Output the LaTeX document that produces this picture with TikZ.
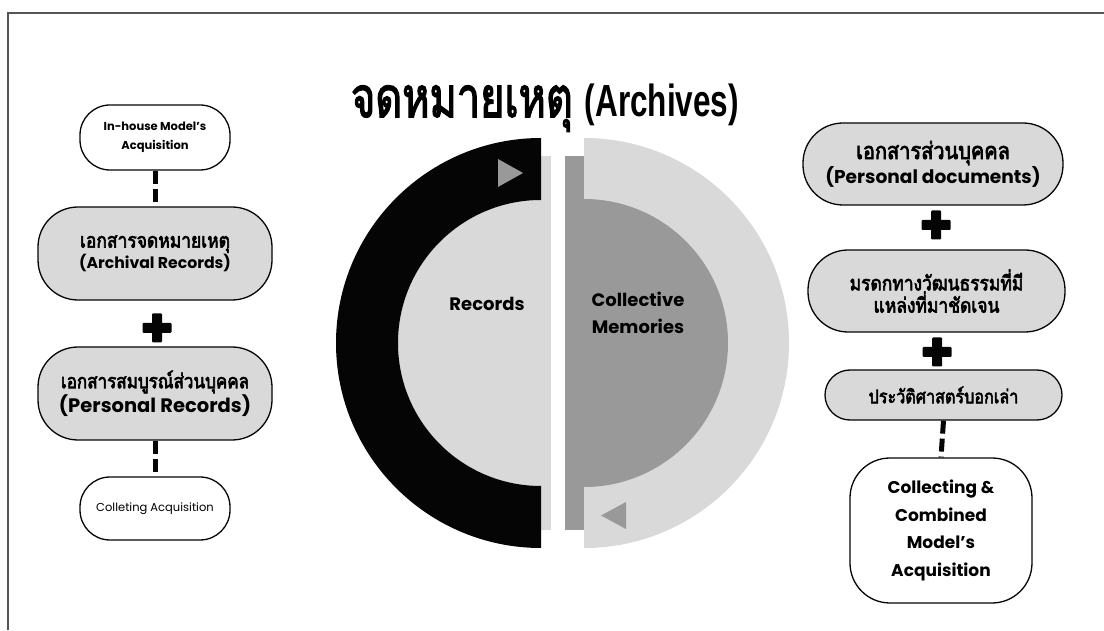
\documentclass[tikz,border=0pt]{standalone}
\usepackage{fontspec}
\setmainfont{Poppins}
\newfontfamily\thai[Script=Thai, FakeBold=3, FakeStretch=0.85]{Loma}
\newfontfamily\thaihead[Script=Thai, FakeBold=2.8]{Loma}
\newfontfamily\heads{Liberation Sans}
\usetikzlibrary{calc}

\definecolor{paleg}{HTML}{D9D9D9}
\definecolor{midg}{HTML}{999999}
\definecolor{ink}{HTML}{050505}
\definecolor{rulegrey}{HTML}{555555}

\tikzset{
  box/.style={draw=ink, line width=1.3pt, align=center, inner sep=0pt, rounded corners=#1},
  greybox/.style={box=40pt, fill=paleg},
  whitebox/.style={box=30pt, fill=white},
  dashlink/.style={draw=ink, line width=5pt, dash pattern=on 13pt off 5pt},
  plussign/.style={minimum size=30pt, inner sep=0pt,
    path picture={
      \fill[ink, rounded corners=1pt] ($(path picture bounding box.center)+(-5pt,-14.5pt)$) rectangle ++(10pt,29pt);
      \fill[ink, rounded corners=1pt] ($(path picture bounding box.center)+(-14.5pt,-5pt)$) rectangle ++(29pt,10pt);
    }},
  disclabel/.style={font=\bfseries\fontsize{18}{27}\selectfont, align=center},
}
% box text: Thai line at one size, Latin line at another
\newcommand{\thline}[2]{{\thai\fontsize{#1}{26}\selectfont #2}}
\newcommand{\laline}[2]{{\bfseries\fontsize{#1}{26}\selectfont #2}}

\begin{document}
\begin{tikzpicture}[x=1pt, y=1pt]
  \useasboundingbox (0,0) rectangle (1104,630);
  \fill[white] (0,0) rectangle (1104,630);

  % frame rules along the top and left edges
  \draw[rulegrey, line width=1.5pt] (8,0) -- (8,617) -- (1104,617);

  % title
  \node (title) at (545,513) [anchor=base, inner sep=0pt]
    {{\thaihead\fontsize{56}{60}\selectfont\scalebox{0.74}[1]{จดหมายเหตุ}}\hspace{12pt}%
     {\heads\bfseries\fontsize{45}{50}\selectfont\scalebox{0.7}[1]{(Archives)}}};

  % ---- central disc: records (left) and collective memories (right) ----
  % left half
  \fill[paleg] (541,100) rectangle (551,474);
  \fill[paleg] (541,430) arc[start angle=90, end angle=270, radius=143] -- cycle;
  \fill[ink] (541,492) arc[start angle=90, end angle=270, radius=205]
             -- (541,144) arc[start angle=270, end angle=90, radius=143] -- cycle;
  \fill[midg] (498,471) -- (523,457) -- (498,443) -- cycle;
  % right half
  \fill[midg] (565,100) rectangle (584,474);
  \fill[paleg] (584,492) arc[start angle=90, end angle=-90, radius=205]
               -- (584,144) arc[start angle=-90, end angle=90, radius=143] -- cycle;
  \fill[midg] (584,431) arc[start angle=90, end angle=-90, radius=144] -- cycle;
  \fill[midg] (626,128) -- (601,114.5) -- (626,101) -- cycle;

  \node[disclabel] (rec) at (487,326) {Records};
  \node[disclabel] (mem) at (638,317) {Collective\\Memories};

  % ---- left column ----
  \node[whitebox, minimum width=150pt, minimum height=65pt,
        font=\bfseries\fontsize{11.5}{19}\selectfont] (inhouse) at (155,492.5)
        {In-house Model’s\\Acquisition};
  \node[greybox, minimum width=234pt, minimum height=93pt] (arch) at (155,376.5)
        {\thline{20.5}{เอกสารจดหมายเหตุ}\\\laline{15.7}{(Archival Records)}};
  \node[plussign] (plusA) at (157,302) {};
  \node[greybox, minimum width=234pt, minimum height=93pt] (pers) at (155,236.5)
        {\thline{20}{เอกสารสมบูรณ์ส่วนบุคคล}\\\laline{19.5}{(Personal Records)}};
  \node[whitebox, minimum width=150pt, minimum height=63pt,
        font=\fontsize{11.5}{14}\selectfont] (collect) at (155,121.5)
        {Colleting Acquisition};
  \draw[dashlink] (inhouse) -- (arch);
  \draw[dashlink] (pers) -- (collect);

  % ---- right column ----
  \node[greybox, minimum width=260pt, minimum height=82pt] (pdoc) at (933,466)
        {\thline{23.5}{เอกสารส่วนบุคคล}\\\laline{18.6}{(Personal documents)}};
  \node[plussign] (plusB) at (936,405) {};
  \node[greybox, minimum width=257pt, minimum height=82pt] (herit) at (936.5,339)
        {\thline{20.5}{มรดกทางวัฒนธรรมที่มี}\\\thline{20.5}{แหล่งที่มาชัดเจน}};
  \node[plussign] (plusC) at (937,278) {};
  \node[greybox, box=25pt, minimum width=237pt, minimum height=50pt] (oral) at (943.5,235)
        {\thline{19}{ประวัติศาสตร์บอกเล่า}};
  \node[whitebox, box=40pt, minimum width=182pt, minimum height=145pt,
        font=\bfseries\fontsize{17}{27.5}\selectfont] (combo) at (941,99.5)
        {Collecting \&\\Combined\\Model’s\\Acquisition};
  \draw[dashlink] (oral.south) -- (combo.north);
\end{tikzpicture}
\end{document}
